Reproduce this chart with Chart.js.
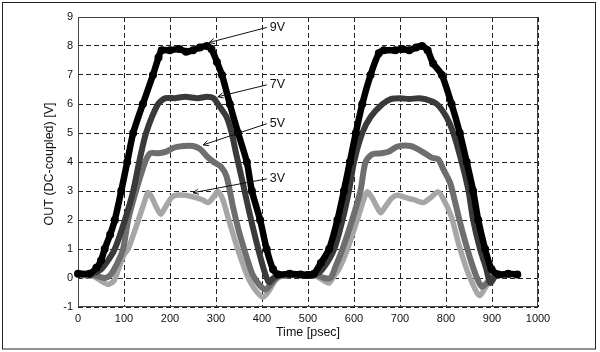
<!DOCTYPE html>
<html>
<head>
<meta charset="utf-8">
<script src="https://cdn.jsdelivr.net/npm/chart.js@4.4.1/dist/chart.umd.min.js"></script>
<style>
  html, body { margin: 0; padding: 0; background: #fff; }
  canvas { display: block; }
</style>
</head>
<body>
<canvas id="pulseChart" width="600" height="352"></canvas>
<script>
// values, time in psec, level in V
const t9 = [0, 25, 40, 50, 58, 70, 80, 94, 107, 120, 141, 163, 175, 182, 200, 220, 235, 250, 265, 280, 290, 302, 313, 330, 348, 367, 378, 396, 410, 424, 435, 460, 484, 500, 513, 528, 546, 564, 578, 591, 604, 618, 636, 654, 665, 690, 705, 720, 735, 748, 760, 772, 791, 812, 830, 845, 859, 870, 885, 899, 914, 935, 955];
const v9 = [0.15, 0.15, 0.35, 0.6, 1.0, 1.5, 2.0, 3.0, 4.0, 5.0, 6.0, 7.0, 7.6, 7.85, 7.85, 7.9, 7.8, 7.85, 7.95, 8.0, 7.9, 7.45, 7.0, 6.0, 5.0, 4.0, 3.0, 2.0, 1.0, 0.3, 0.12, 0.15, 0.12, 0.1, 0.15, 0.52, 1.0, 2.0, 3.0, 4.0, 5.0, 6.0, 7.0, 7.75, 7.85, 7.85, 7.9, 7.85, 7.95, 8.0, 7.85, 7.4, 7.0, 6.0, 5.0, 4.0, 3.0, 2.0, 1.0, 0.3, 0.12, 0.15, 0.12];

const t7 = [0, 30, 50, 65, 80, 102, 120, 133, 148, 174, 190, 210, 233, 260, 280, 295, 304, 323, 334, 345, 358, 372, 387, 402, 415, 425, 440, 480, 515, 531, 557, 575, 589, 600, 618, 636, 662, 680, 700, 720, 740, 754, 780, 801, 816, 834, 849, 859, 874, 888, 896, 910, 940];
const v7 = [0.15, 0.15, 0.3, 0.6, 1.0, 2.0, 3.0, 4.0, 5.0, 6.0, 6.2, 6.2, 6.25, 6.2, 6.25, 6.2, 6.0, 5.55, 5.0, 4.2, 3.3, 2.3, 1.3, 0.4, -0.15, 0.0, 0.12, 0.12, 0.15, 0.3, 1.0, 2.0, 3.0, 4.0, 5.0, 5.55, 6.0, 6.17, 6.2, 6.17, 6.2, 6.17, 6.0, 5.55, 5.0, 4.0, 3.0, 2.0, 1.0, 0.3, -0.17, 0.1, 0.12];

const t5 = [0, 30, 45, 58, 70, 85, 98, 109, 126, 146, 157, 175, 190, 210, 230, 250, 265, 280, 295, 310, 323, 337, 350, 365, 380, 395, 408, 420, 435, 460, 500, 520, 535, 549, 560, 575, 596, 614, 625, 640, 660, 675, 694, 723, 747, 769, 783, 794, 809, 820, 834, 856, 870, 878, 890, 906, 940];
const v5 = [0.1, 0.1, 0.05, 0.0, 0.1, 0.5, 1.0, 2.0, 3.0, 4.0, 4.3, 4.3, 4.35, 4.5, 4.55, 4.55, 4.45, 4.2, 4.0, 3.85, 3.5, 2.45, 1.6, 0.8, 0.1, -0.25, -0.4, -0.2, 0.05, 0.1, 0.1, 0.1, 0.0, 0.0, 0.4, 1.0, 2.0, 3.0, 4.0, 4.27, 4.3, 4.35, 4.53, 4.55, 4.37, 4.15, 4.1, 3.75, 3.28, 2.6, 1.7, 0.5, -0.1, -0.3, -0.15, 0.1, 0.12];

const t3 = [0, 35, 50, 65, 78, 90, 100, 109, 126, 146, 152, 160, 170, 180, 192, 205, 217, 235, 254, 270, 283, 295, 304, 315, 326, 348, 370, 385, 402, 415, 428, 440, 470, 500, 520, 535, 546, 556, 567, 586, 607, 622, 629, 640, 650, 658, 670, 682, 694, 711, 730, 751, 765, 783, 795, 812, 827, 845, 858, 867, 874, 883, 892, 905, 940];
const v3 = [0.1, 0.05, -0.1, -0.22, -0.1, 0.4, 0.8, 1.0, 1.75, 2.7, 2.95, 2.8, 2.45, 2.2, 2.5, 2.8, 2.86, 2.85, 2.78, 2.7, 2.6, 2.8, 2.98, 2.7, 2.1, 0.96, 0.0, -0.4, -0.66, -0.45, -0.1, 0.05, 0.1, 0.1, 0.05, -0.1, -0.17, 0.05, 0.3, 1.0, 2.0, 2.75, 2.97, 2.75, 2.45, 2.25, 2.5, 2.75, 2.85, 2.78, 2.7, 2.6, 2.75, 2.97, 2.7, 2.1, 1.2, 0.3, -0.2, -0.5, -0.6, -0.4, -0.17, 0.05, 0.1];

const xTicks = [0, 100, 200, 300, 400, 500, 600, 700, 800, 900, 1000];
const yTicks = [-1, 0, 1, 2, 3, 4, 5, 6, 7, 8, 9];

// callouts: label text, where the text sits, where the arrow points
const calloutNames = ['9V', '7V', '5V', '3V'];
const calloutX = [417, 417, 417, 417];
const calloutY = [8.64, 6.66, 5.32, 3.42];
const arrowTipX = [285, 304, 272, 250];
const arrowTipY = [8.12, 6.25, 4.59, 2.94];

function toPoints(ts, vs) {
    return ts.map((t, i) => ({ x: t, y: vs[i] }));
}

const FONT = '"Liberation Sans", Arial, sans-serif';

const framePlugin = {
    id: 'framePlugin',
    beforeDatasetsDraw(chart) {
        const ctx = chart.ctx;
        const a = chart.chartArea;
        ctx.save();
        ctx.strokeStyle = '#444';
        ctx.lineWidth = 1;
        ctx.strokeRect(Math.round(a.left) + 0.5, Math.round(a.top) + 0.5,
            Math.round(a.right - a.left) - 1, Math.round(a.bottom - a.top) - 1);
        ctx.restore();
    },
    afterDraw(chart) {
        const ctx = chart.ctx;
        const a = chart.chartArea;
        const xs = chart.scales.x;
        const ys = chart.scales.y;
        ctx.save();
        // outer picture frame
        ctx.strokeStyle = '#222';
        ctx.lineWidth = 1;
        ctx.strokeRect(2.5, 2.5, 593, 346.5);

        // axis titles
        ctx.fillStyle = '#111';
        ctx.font = '12.5px ' + FONT;
        ctx.textAlign = 'center';
        ctx.textBaseline = 'middle';
        ctx.fillText('Time [psec]', (a.left + a.right) / 2, 333);
        ctx.save();
        ctx.translate(50, (a.top + a.bottom) / 2 + 2);
        ctx.rotate(-Math.PI / 2);
        ctx.fillText('OUT (DC-coupled) [V]', 0, 0);
        ctx.restore();

        // callout labels with arrows
        ctx.textAlign = 'left';
        ctx.strokeStyle = '#111';
        ctx.lineWidth = 1;
        calloutNames.forEach((name, i) => {
            const lx = xs.getPixelForValue(calloutX[i]);
            const ly = ys.getPixelForValue(calloutY[i]);
            const tx = xs.getPixelForValue(arrowTipX[i]);
            const ty = ys.getPixelForValue(arrowTipY[i]);
            ctx.fillText(name, lx, ly);
            const sx = lx - 3;
            const sy = ly;
            ctx.beginPath();
            ctx.moveTo(sx, sy);
            ctx.lineTo(tx, ty);
            const ang = Math.atan2(ty - sy, tx - sx);
            ctx.moveTo(tx - 6 * Math.cos(ang - 0.45), ty - 6 * Math.sin(ang - 0.45));
            ctx.lineTo(tx, ty);
            ctx.lineTo(tx - 6 * Math.cos(ang + 0.45), ty - 6 * Math.sin(ang + 0.45));
            ctx.stroke();
        });
        ctx.restore();
    }
};

const ctx = document.getElementById('pulseChart').getContext('2d');

const pulseChart = new Chart(ctx, {
    type: 'line',
    data: {
        datasets: [
            {
                label: '9V',
                data: toPoints(t9, v9),
                borderColor: '#000',
                backgroundColor: '#000',
                borderWidth: 6.5,
                pointRadius: 4,
                pointBorderWidth: 0,
                tension: 0.25
            },
            {
                label: '7V',
                data: toPoints(t7, v7),
                borderColor: '#3a3a3a',
                borderWidth: 6,
                pointRadius: 0,
                tension: 0.25
            },
            {
                label: '5V',
                data: toPoints(t5, v5),
                borderColor: '#6e6e6e',
                borderWidth: 6,
                pointRadius: 0,
                tension: 0.25
            },
            {
                label: '3V',
                data: toPoints(t3, v3),
                borderColor: '#a6a6a6',
                borderWidth: 5.5,
                pointRadius: 0,
                tension: 0.25
            }
        ]
    },
    options: {
        responsive: false,
        animation: false,
        devicePixelRatio: 1,
        clip: 6,
        layout: { padding: { top: 17, right: 62, left: 0, bottom: 0 } },
        plugins: {
            legend: { display: false },
            tooltip: { enabled: false }
        },
        scales: {
            x: {
                type: 'linear',
                min: 0,
                max: 1000,
                afterFit(scale) { scale.height = 45; },
                afterBuildTicks(scale) { scale.ticks = xTicks.map(v => ({ value: v })); },
                grid: { color: '#222', lineWidth: 1, drawTicks: false },
                border: { display: false, dash: [5, 3] },
                ticks: {
                    padding: 5, color: '#111', font: { family: FONT, size: 11 }, maxRotation: 0,
                    callback: v => String(v)
                }
            },
            y: {
                type: 'linear',
                min: -1,
                max: 9,
                afterFit(scale) { scale.width = 78; },
                afterBuildTicks(scale) { scale.ticks = yTicks.map(v => ({ value: v })); },
                grid: { color: '#222', lineWidth: 1, drawTicks: false },
                border: { display: false, dash: [5, 3] },
                ticks: {
                    padding: 5, color: '#111', font: { family: FONT, size: 11 },
                    callback: v => String(v)
                }
            }
        }
    },
    plugins: [framePlugin]
});
</script>
</body>
</html>
